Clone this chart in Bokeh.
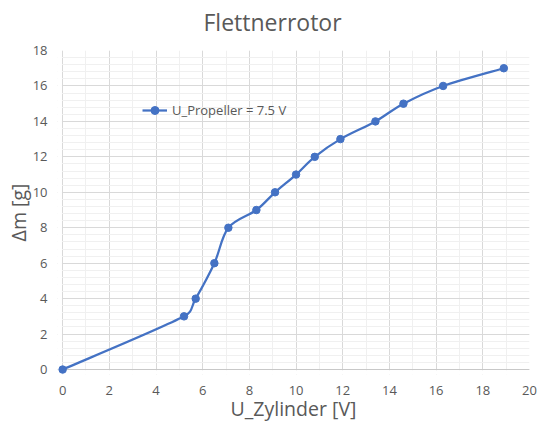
import numpy as np
from bokeh.plotting import figure
from bokeh.models import (Range1d, SingleIntervalTicker, Legend, LegendItem,
                          ColumnDataSource, BoxAnnotation, Title, Span)
from bokeh.embed import file_html
from bokeh.resources import INLINE

# ---- data ----
u_zylinder = [0, 5.2, 5.7, 6.5, 7.1, 8.3, 9.1, 10.0, 10.8, 11.9, 13.4, 14.6, 16.3, 18.9]
delta_m = [0, 3, 4, 6, 8, 9, 10, 11, 12, 13, 14, 15, 16, 17]
series_label = "U_Propeller = 7.5 V"
title_text = "Flettnerrotor"
x_label = "U_Zylinder [V]"
y_label = "\u0394m [g]"

BLUE = "#4472C4"
TXT = "#595959"
FONT = "Open Sans"

X0, X1 = -0.22, 20
Y0, Y1 = -0.28, 18
FW, FH = 472, 324

p = figure(frame_width=FW, frame_height=FH, output_backend="svg",
           toolbar_location=None,
           x_range=Range1d(X0, X1), y_range=Range1d(Y0, Y1),
           min_border_left=57, min_border_right=15, min_border_top=50,
           min_border_bottom=48)
p.outline_line_color = None
p.background_fill_color = "white"
p.border_fill_color = "white"

sx = FW / (X1 - X0)
sy = FH / (Y1 - Y0)

# spacer between title and plot area, then the title itself
p.add_layout(Title(text=" ", standoff=10, text_font_size="1px"), "above")
p.add_layout(Title(text=title_text, align="left", offset=146, standoff=0,
                   text_font=FONT, text_font_size="23px",
                   text_font_style="normal", text_color=TXT), "above")

for ax, minor in ((p.xaxis[0], 2), (p.yaxis[0], 5)):
    ax.ticker = SingleIntervalTicker(interval=2, num_minor_ticks=minor)
    ax.major_tick_line_color = None
    ax.minor_tick_line_color = None
    ax.major_tick_out = 0
    ax.major_tick_in = 0
    ax.axis_line_color = None
    ax.major_label_text_font = FONT
    ax.major_label_text_font_size = "13px"
    ax.major_label_text_color = TXT
    ax.axis_label_text_font = FONT
    ax.axis_label_text_font_size = "19.5px"
    ax.axis_label_text_font_style = "normal"
    ax.axis_label_text_color = TXT

p.xaxis.axis_label = x_label
p.yaxis.axis_label = y_label
p.xaxis.major_label_standoff = 7
p.yaxis.major_label_standoff = 6
p.xaxis.axis_label_standoff = -3
p.yaxis.axis_label_standoff = -2

p.xgrid.grid_line_color = "#d9d9d9"
p.ygrid.grid_line_color = "#d9d9d9"
p.xgrid.minor_grid_line_color = "#f0f0f0"
p.ygrid.minor_grid_line_color = "#f0f0f0"

# horizontal axis line at y = 0
p.add_layout(Span(location=0, dimension="width", line_color="#c8c8c8",
                  line_width=1, level="underlay"))
# white masks for the small margin left of x=0 and below y=0
p.add_layout(BoxAnnotation(top=-0.04, fill_color="white", fill_alpha=1,
                           line_color=None, level="underlay"))
p.add_layout(BoxAnnotation(right=-0.03, fill_color="white", fill_alpha=1,
                           line_color=None, level="underlay"))

# Excel-like smoothed curve through the data (cubic Bezier segments)
xs = np.array(u_zylinder, dtype=float)
ys = np.array(delta_m, dtype=float)
n = len(xs)
xp = np.concatenate([[xs[0]], xs, [xs[-1]]])
yp = np.concatenate([[ys[0]], ys, [ys[-1]]])


def dist(a, b):
    return np.hypot((xp[a] - xp[b]) * sx, (yp[a] - yp[b]) * sy)


seg = dict(x0=[], y0=[], x1=[], y1=[], cx0=[], cy0=[], cx1=[], cy1=[])
for i in range(n - 1):
    j = i + 1
    d12 = dist(j, j + 1)
    d02 = dist(j - 1, j + 1)
    d13 = dist(j, j + 2)
    f = 1 / 6
    g = 1 / 6
    if d02 / 6 >= d12 / 2 and d02 > 0:
        f = d12 / d02 / 2
    if d13 / 6 >= d12 / 2 and d13 > 0:
        g = d12 / d13 / 2
    seg["x0"].append(xp[j]); seg["y0"].append(yp[j])
    seg["x1"].append(xp[j + 1]); seg["y1"].append(yp[j + 1])
    seg["cx0"].append(xp[j] + f * (xp[j + 1] - xp[j - 1]))
    seg["cy0"].append(yp[j] + f * (yp[j + 1] - yp[j - 1]))
    seg["cx1"].append(xp[j + 1] - g * (xp[j + 2] - xp[j]))
    seg["cy1"].append(yp[j + 1] - g * (yp[j + 2] - yp[j]))

p.bezier(x0="x0", y0="y0", x1="x1", y1="y1", cx0="cx0", cy0="cy0",
         cx1="cx1", cy1="cy1", source=ColumnDataSource(seg),
         line_color=BLUE, line_width=2.25)

pts = p.scatter(u_zylinder, delta_m, size=7.5, marker="circle",
                fill_color=BLUE, line_color=BLUE)
leg_line = p.line(x=[np.nan], y=[np.nan], line_color=BLUE, line_width=2.25)

legend = Legend(items=[LegendItem(label=series_label, renderers=[leg_line, pts])],
                location=(85, 254), orientation="vertical",
                border_line_color=None, background_fill_alpha=0,
                padding=0, margin=0, spacing=0,
                glyph_width=25, glyph_height=20, label_standoff=5,
                label_text_font=FONT, label_text_font_size="13px",
                label_text_color=TXT)
p.add_layout(legend, "center")

open("out.html", "w").write(file_html(p, INLINE))
